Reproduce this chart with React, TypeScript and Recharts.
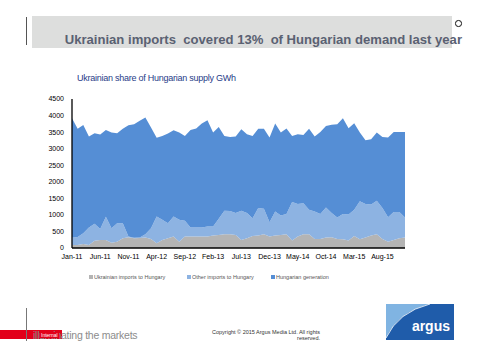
import React from "react";
import { AreaChart, Area, XAxis, YAxis } from "recharts";

const months: string[] = [
  "Jan-11","Feb-11","Mar-11","Apr-11","May-11","Jun-11","Jul-11","Aug-11","Sep-11","Oct-11","Nov-11","Dec-11",
  "Jan-12","Feb-12","Mar-12","Apr-12","May-12","Jun-12","Jul-12","Aug-12","Sep-12","Oct-12","Nov-12","Dec-12",
  "Jan-13","Feb-13","Mar-13","Apr-13","May-13","Jun-13","Jul-13","Aug-13","Sep-13","Oct-13","Nov-13","Dec-13",
  "Jan-14","Feb-14","Mar-14","Apr-14","May-14","Jun-14","Jul-14","Aug-14","Sep-14","Oct-14","Nov-14","Dec-14",
  "Jan-15","Feb-15","Mar-15","Apr-15","May-15","Jun-15","Jul-15","Aug-15","Sep-15","Oct-15","Nov-15","Dec-15",
];

const ukrainianImports: number[] = [
  90, 90, 120, 90, 220, 245, 245, 160, 190, 295, 325, 295,
  300, 315, 275, 140, 245, 295, 345, 190, 345, 345, 345, 345,
  345, 375, 395, 415, 415, 395, 245, 295, 365, 375, 415, 345,
  375, 395, 415, 225, 345, 415, 415, 275, 275, 315, 325, 275,
  265, 225, 365, 265, 315, 375, 415, 275, 190, 245, 295, 315,
];

const otherImports: number[] = [
  220, 245, 325, 530, 510, 330, 700, 440, 560, 455, 20, 15,
  15, 100, 325, 810, 605, 455, 605, 660, 475, 275, 275, 275,
  305, 275, 485, 710, 700, 660, 880, 760, 535, 830, 770, 435,
  730, 590, 610, 1165, 985, 935, 740, 825, 750, 910, 730, 645,
  760, 790, 790, 1145, 1015, 935, 1015, 930, 740, 840, 790, 605,
];

const hungarianGeneration: number[] = [
  3610, 3270, 3270, 2745, 2735, 2850, 2615, 2890, 2715, 2855, 3365, 3430,
  3525, 3530, 3040, 2380, 2530, 2705, 2605, 2635, 2565, 2940, 2990, 3140,
  3210, 2840, 2775, 2260, 2240, 2310, 2460, 2380, 2480, 2400, 2420, 2555,
  2655, 2505, 2585, 1995, 2105, 2065, 2450, 2265, 2475, 2460, 2665, 2815,
  2895, 2605, 2615, 2080, 1925, 1975, 2055, 2145, 2405, 2420, 2415, 2580,
];

const yTicks: number[] = [0, 500, 1000, 1500, 2000, 2500, 3000, 3500, 4000, 4500];

const seriesNames: string[] = ["Ukrainian imports to Hungary", "Other imports to Hungary", "Hungarian generation"];
const seriesColors: string[] = ["#B4B4B4", "#8DB3E2", "#558ED5"];

const data = months.map((m, i) => ({
  month: m,
  ukr: ukrainianImports[i],
  other: otherImports[i],
  gen: hungarianGeneration[i],
}));

const FONT = "'Liberation Sans', Arial, sans-serif";

export default function App() {
  return (
    <div style={{ position: "absolute", left: 0, top: 0, width: 480, height: 360, background: "#fff", fontFamily: FONT, overflow: "hidden" }}>
      {/* Title bar */}
      <div style={{ position: "absolute", left: 26, top: 17, width: 1, height: 28, background: "#555" }} />
      <div style={{ position: "absolute", left: 32, top: 16, width: 420, height: 32, background: "#DDDEDD" }} />
      <div style={{ position: "absolute", left: 455, top: 20, width: 6.5, height: 6.5, borderRadius: "50%", border: "1.6px solid #111", boxSizing: "border-box" }} />
      <div style={{ position: "absolute", right: 18, top: 32, fontSize: 13.1, fontWeight: "bold", color: "#5A6172", whiteSpace: "pre", lineHeight: "16px" }}>
        {"Ukrainian imports  covered 13%  of Hungarian demand last year"}
      </div>

      {/* Subtitle */}
      <div style={{ position: "absolute", left: 77, top: 73, fontSize: 9, color: "#1F3C88", whiteSpace: "pre", letterSpacing: -0.25, lineHeight: "11px" }}>
        Ukrainian share of Hungarian supply GWh
      </div>

      {/* Chart */}
      <div style={{ position: "absolute", left: 0, top: 0 }}>
        <AreaChart width={480} height={360} data={data} margin={{ top: 99, right: 75, bottom: 100, left: 0 }}>
          <XAxis
            dataKey="month"
            interval={4}
            height={12}
            tickLine={false}
            tickSize={4}
            tickMargin={2}
            axisLine={{ stroke: "#000", strokeWidth: 1.3 }}
            tick={{ fontSize: 7, fill: "#000", fontFamily: FONT }}
          />
          <YAxis
            width={72}
            domain={[0, 4500]}
            ticks={yTicks}
            interval={0}
            tickLine={false}
            tickSize={6}
            tickMargin={2}
            axisLine={{ stroke: "#000", strokeWidth: 1.3 }}
            tick={{ fontSize: 7, fill: "#000", fontFamily: FONT }}
          />
          <Area type="linear" dataKey="ukr" stackId="1" stroke="none" fill={seriesColors[0]} fillOpacity={1} isAnimationActive={false} />
          <Area type="linear" dataKey="other" stackId="1" stroke="none" fill={seriesColors[1]} fillOpacity={1} isAnimationActive={false} />
          <Area type="linear" dataKey="gen" stackId="1" stroke="none" fill={seriesColors[2]} fillOpacity={1} isAnimationActive={false} />
        </AreaChart>
      </div>

      {/* Legend */}
      {seriesNames.map((n, i) => (
        <div key={n} style={{ position: "absolute", left: [89, 187, 271][i], top: 273, display: "flex", alignItems: "center", whiteSpace: "pre", fontSize: 5.5, color: "#555", lineHeight: "8px" }}>
          <span style={{ display: "inline-block", width: 3.5, height: 3.5, background: seriesColors[i], marginRight: 1.5 }} />
          {n}
        </div>
      ))}

      {/* Footer */}
      <div style={{ position: "absolute", left: 0, top: 330, width: 62, height: 9, background: "#E2001A" }} />
      <div style={{ position: "absolute", left: 33, top: 329, fontSize: 10.5, color: "#8C8C8C", whiteSpace: "pre", lineHeight: "13px", letterSpacing: -0.25 }}>
        illuminating the markets
      </div>
      <div style={{ position: "absolute", left: 40, top: 331.5, fontSize: 5, color: "#fff", whiteSpace: "pre", lineHeight: "6px", background: "#E2001A", padding: "0 1px" }}>
        Internal
      </div>
      <div style={{ position: "absolute", left: 26, top: 308, width: 1, height: 33, background: "#777" }} />

      <div style={{ position: "absolute", left: 190, top: 329, fontSize: 5.5, color: "#333", whiteSpace: "pre", lineHeight: "6px", textAlign: "right", width: 130 }}>
        {"Copyright \u00a9 2015 Argus Media Ltd. All rights"}
        <br />
        {"reserved."}
      </div>

      {/* Argus logo */}
      <svg style={{ position: "absolute", left: 386, top: 304 }} width={68} height={36}>
        <rect x={0} y={0} width={68} height={36} fill="#1F5CAA" />
        <path d="M0,0 L44,0 Q12,8 0,34 Z" fill="#80B4E2" />
        <path d="M44,0 Q12,8 0,34" stroke="#fff" strokeWidth={0.8} fill="none" />
        <text x={64} y={27} textAnchor="end" fontSize={14} fontWeight="bold" fill="#fff" fontFamily={FONT}>argus</text>
      </svg>
    </div>
  );
}
